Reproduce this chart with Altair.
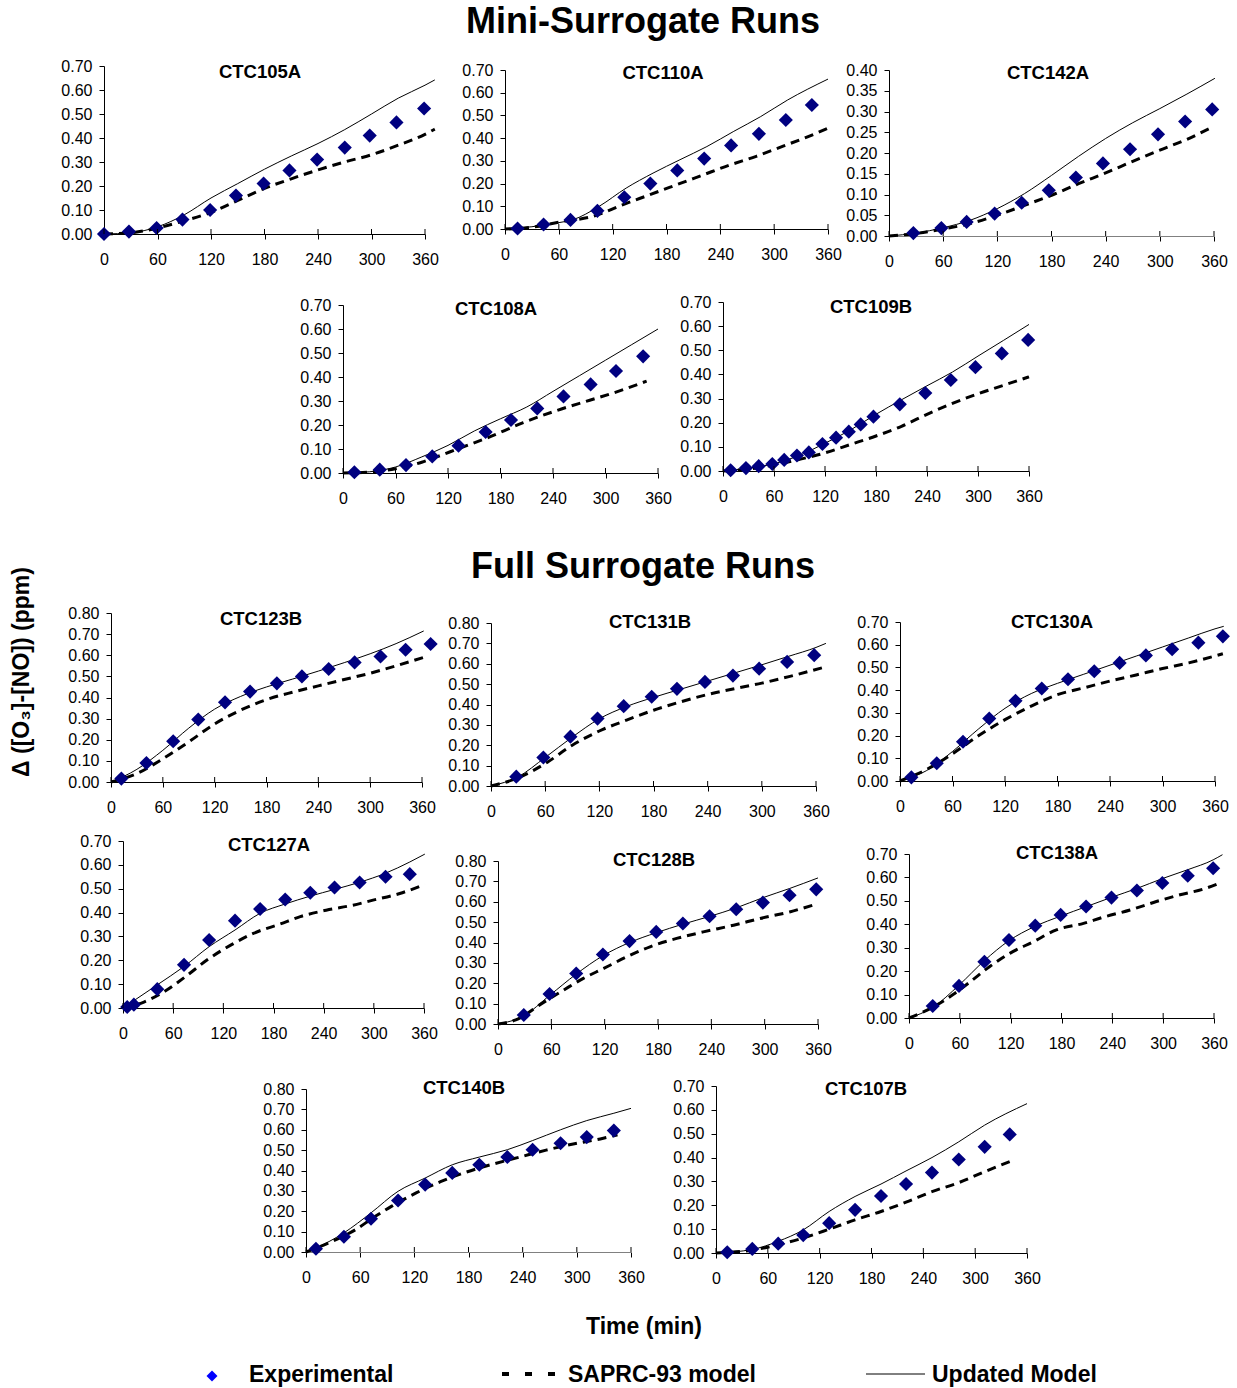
import altair as alt
import pandas as pd

FONT = "Liberation Sans, Arial, DejaVu Sans"
W, H = 1237, 1388
X_TICKS = [0, 60, 120, 180, 240, 300, 360]

# ---------------- data: (time [min], delta([O3]-[NO]) [ppm]) ----------------
CTC105A_EXP = [(0, 0.0), (28, 0.01), (59, 0.025), (88, 0.06), (119, 0.10), (148, 0.16), (179, 0.21), (208, 0.265), (239, 0.31), (270, 0.36), (298, 0.41), (328, 0.465), (359, 0.523)]
CTC105A_UPD = [(0, 0), (30, 0.005), (60, 0.03), (90, 0.08), (120, 0.15), (150, 0.21), (180, 0.27), (210, 0.325), (240, 0.377), (270, 0.435), (300, 0.50), (330, 0.566), (360, 0.62), (371, 0.642)]
CTC105A_SAP = [(0, 0), (30, 0.005), (60, 0.025), (90, 0.055), (120, 0.09), (150, 0.14), (180, 0.19), (210, 0.23), (240, 0.267), (270, 0.30), (300, 0.33), (330, 0.37), (360, 0.415), (371, 0.437)]

CTC110A_EXP = [(14, 0.002), (43, 0.02), (73, 0.04), (103, 0.08), (133, 0.14), (162, 0.20), (192, 0.258), (222, 0.31), (252, 0.368), (283, 0.419), (313, 0.48), (342, 0.546)]
CTC110A_UPD = [(0, 0), (30, 0.01), (60, 0.028), (75, 0.04), (105, 0.10), (135, 0.18), (165, 0.246), (195, 0.305), (225, 0.363), (255, 0.43), (285, 0.495), (315, 0.568), (360, 0.66)]
CTC110A_SAP = [(0, 0), (30, 0.008), (60, 0.03), (100, 0.058), (130, 0.105), (160, 0.149), (190, 0.193), (220, 0.237), (250, 0.281), (280, 0.32), (310, 0.365), (340, 0.41), (360, 0.444)]

CTC142A_EXP = [(27, 0.007), (58, 0.019), (86, 0.034), (117, 0.054), (147, 0.08), (177, 0.11), (207, 0.141), (237, 0.175), (267, 0.209), (298, 0.245), (328, 0.276), (358, 0.305)]
CTC142A_UPD = [(0, 0), (30, 0.007), (60, 0.02), (90, 0.038), (120, 0.066), (150, 0.102), (180, 0.146), (210, 0.192), (240, 0.235), (270, 0.273), (300, 0.307), (330, 0.342), (361, 0.38)]
CTC142A_SAP = [(0, 0), (30, 0.006), (60, 0.017), (90, 0.03), (120, 0.05), (150, 0.074), (180, 0.098), (210, 0.126), (240, 0.152), (270, 0.18), (300, 0.207), (330, 0.233), (356, 0.26)]

CTC108A_EXP = [(13, 0.003), (42, 0.014), (72, 0.033), (102, 0.069), (132, 0.114), (163, 0.171), (192, 0.221), (222, 0.269), (252, 0.319), (283, 0.369), (312, 0.425), (343, 0.486)]
CTC108A_UPD = [(0, 0), (30, 0.005), (60, 0.025), (90, 0.067), (120, 0.115), (150, 0.175), (180, 0.226), (210, 0.275), (240, 0.34), (270, 0.405), (300, 0.47), (330, 0.535), (360, 0.60)]
CTC108A_SAP = [(0, 0), (30, 0.004), (60, 0.018), (90, 0.045), (107, 0.067), (133, 0.103), (164, 0.145), (206, 0.21), (244, 0.26), (282, 0.303), (312, 0.337), (347, 0.383)]

CTC109B_EXP = [(9, 0.003), (27, 0.012), (42, 0.02), (58, 0.029), (72, 0.046), (87, 0.064), (101, 0.077), (117, 0.112), (133, 0.138), (148, 0.163), (162, 0.193), (177, 0.225), (208, 0.276), (238, 0.323), (268, 0.377), (297, 0.43), (328, 0.487), (359, 0.543)]
CTC109B_UPD = [(0, 0), (30, 0.012), (60, 0.03), (90, 0.065), (120, 0.115), (150, 0.17), (180, 0.235), (210, 0.295), (240, 0.353), (270, 0.41), (300, 0.476), (330, 0.541), (360, 0.607)]
CTC109B_SAP = [(0, 0), (30, 0.008), (60, 0.025), (90, 0.048), (120, 0.075), (150, 0.11), (180, 0.145), (210, 0.185), (240, 0.235), (270, 0.28), (300, 0.32), (330, 0.355), (360, 0.39)]

CTC123B_EXP = [(12, 0.016), (41, 0.09), (72, 0.193), (101, 0.296), (132, 0.377), (161, 0.428), (192, 0.467), (221, 0.50), (252, 0.535), (282, 0.566), (312, 0.594), (341, 0.626), (370, 0.653)]
CTC123B_UPD = [(0, 0), (30, 0.06), (60, 0.15), (90, 0.255), (120, 0.345), (150, 0.405), (180, 0.45), (210, 0.487), (240, 0.525), (270, 0.565), (300, 0.607), (330, 0.655), (362, 0.715)]
CTC123B_SAP = [(0, 0), (30, 0.04), (60, 0.11), (90, 0.19), (120, 0.275), (150, 0.34), (180, 0.39), (210, 0.425), (240, 0.455), (270, 0.485), (300, 0.515), (330, 0.55), (362, 0.59)]

CTC131B_EXP = [(28, 0.046), (58, 0.14), (88, 0.242), (118, 0.331), (147, 0.392), (178, 0.438), (206, 0.477), (237, 0.511), (268, 0.542), (297, 0.576), (328, 0.609), (358, 0.642)]
CTC131B_UPD = [(0, 0), (30, 0.045), (60, 0.14), (90, 0.24), (120, 0.33), (150, 0.39), (180, 0.435), (210, 0.475), (240, 0.515), (270, 0.555), (300, 0.595), (330, 0.637), (360, 0.68), (371, 0.70)]
CTC131B_SAP = [(0, 0), (30, 0.04), (60, 0.11), (90, 0.20), (120, 0.27), (150, 0.323), (180, 0.372), (210, 0.413), (240, 0.449), (270, 0.478), (300, 0.505), (330, 0.537), (371, 0.585)]

CTC130A_EXP = [(13, 0.016), (42, 0.078), (72, 0.173), (102, 0.275), (132, 0.353), (162, 0.407), (192, 0.448), (222, 0.483), (251, 0.52), (281, 0.553), (311, 0.58), (341, 0.609), (369, 0.637)]
CTC130A_UPD = [(0, 0), (30, 0.045), (60, 0.13), (90, 0.23), (120, 0.32), (150, 0.385), (180, 0.43), (210, 0.47), (240, 0.51), (270, 0.55), (300, 0.59), (330, 0.63), (360, 0.67), (370, 0.681)]
CTC130A_SAP = [(0, 0), (30, 0.05), (60, 0.12), (90, 0.20), (120, 0.27), (150, 0.33), (180, 0.38), (210, 0.41), (240, 0.44), (270, 0.467), (300, 0.495), (330, 0.52), (369, 0.56)]

CTC127A_EXP = [(5, 0.004), (13, 0.014), (41, 0.079), (73, 0.181), (103, 0.285), (134, 0.366), (164, 0.415), (194, 0.455), (224, 0.483), (253, 0.505), (283, 0.526), (314, 0.55), (343, 0.561)]
CTC127A_UPD = [(0, 0), (41, 0.097), (73, 0.174), (103, 0.257), (134, 0.327), (164, 0.397), (194, 0.436), (224, 0.469), (253, 0.497), (283, 0.527), (314, 0.565), (343, 0.612), (361, 0.645)]
CTC127A_SAP = [(0, 0), (25, 0.025), (50, 0.07), (76, 0.135), (100, 0.20), (132, 0.27), (156, 0.313), (188, 0.352), (212, 0.383), (243, 0.41), (275, 0.431), (299, 0.452), (331, 0.48), (361, 0.518)]

CTC128B_EXP = [(29, 0.044), (58, 0.147), (88, 0.248), (118, 0.341), (148, 0.407), (178, 0.452), (208, 0.493), (238, 0.529), (268, 0.563), (298, 0.596), (328, 0.632), (358, 0.661)]
CTC128B_UPD = [(0, 0), (29, 0.04), (58, 0.14), (88, 0.245), (118, 0.335), (148, 0.40), (178, 0.448), (208, 0.49), (238, 0.528), (268, 0.57), (298, 0.62), (328, 0.665), (360, 0.717)]
CTC128B_SAP = [(0, 0), (20, 0.02), (49, 0.10), (74, 0.167), (96, 0.224), (119, 0.273), (145, 0.33), (171, 0.379), (201, 0.42), (231, 0.452), (265, 0.485), (295, 0.518), (328, 0.55), (360, 0.591)]

CTC138A_EXP = [(28, 0.051), (59, 0.137), (89, 0.24), (118, 0.333), (149, 0.394), (179, 0.44), (209, 0.476), (239, 0.514), (269, 0.544), (299, 0.576), (329, 0.607), (359, 0.639)]
CTC138A_UPD = [(0, 0), (28, 0.045), (59, 0.14), (89, 0.245), (118, 0.33), (148, 0.39), (179, 0.435), (209, 0.475), (239, 0.515), (269, 0.553), (299, 0.595), (329, 0.633), (359, 0.675), (370, 0.697)]
CTC138A_SAP = [(0, 0), (25, 0.04), (52, 0.10), (72, 0.154), (95, 0.219), (119, 0.276), (147, 0.326), (174, 0.376), (206, 0.404), (229, 0.43), (261, 0.461), (292, 0.497), (320, 0.526), (347, 0.55), (369, 0.579)]

CTC140B_EXP = [(11, 0.016), (42, 0.075), (72, 0.163), (102, 0.253), (132, 0.331), (162, 0.388), (192, 0.428), (223, 0.466), (251, 0.502), (282, 0.534), (311, 0.564), (341, 0.596)]
CTC140B_UPD = [(0, 0), (11, 0.02), (42, 0.094), (72, 0.192), (102, 0.298), (132, 0.363), (162, 0.428), (192, 0.466), (223, 0.502), (251, 0.547), (282, 0.60), (311, 0.645), (341, 0.681), (360, 0.705)]
CTC140B_SAP = [(0, 0), (28, 0.05), (55, 0.11), (75, 0.17), (95, 0.225), (122, 0.29), (149, 0.345), (176, 0.39), (206, 0.43), (236, 0.465), (266, 0.50), (296, 0.53), (326, 0.555), (345, 0.575)]

CTC107B_EXP = [(13, 0.003), (42, 0.017), (72, 0.039), (101, 0.075), (131, 0.125), (161, 0.181), (191, 0.239), (220, 0.289), (250, 0.337), (281, 0.392), (311, 0.445), (340, 0.497)]
CTC107B_UPD = [(0, 0), (42, 0.015), (72, 0.049), (101, 0.097), (131, 0.174), (161, 0.237), (191, 0.289), (220, 0.344), (250, 0.40), (281, 0.466), (311, 0.536), (360, 0.626)]
CTC107B_SAP = [(0, 0), (45, 0.014), (72, 0.035), (101, 0.063), (131, 0.10), (161, 0.139), (191, 0.174), (220, 0.213), (250, 0.257), (281, 0.295), (311, 0.341), (340, 0.383)]

PANEL_NAMES = ["CTC105A", "CTC110A", "CTC142A", "CTC108A", "CTC109B",
               "CTC123B", "CTC131B", "CTC130A", "CTC127A", "CTC128B",
               "CTC138A", "CTC140B", "CTC107B"]
PANEL_YMAX = [0.70, 0.70, 0.40, 0.70, 0.70, 0.80, 0.80, 0.70, 0.70, 0.80, 0.70, 0.80, 0.70]
PANEL_YSTEP = [0.10, 0.10, 0.05, 0.10, 0.10, 0.10, 0.10, 0.10, 0.10, 0.10, 0.10, 0.10, 0.10]
SECTION_TITLES = ["Mini-Surrogate Runs", "Full Surrogate Runs"]
Y_TITLE = "\u0394 ([O\u2083]-[NO]) (ppm)"
X_TITLE = "Time (min)"
LEGEND_LABELS = ["Experimental", "SAPRC-93 model", "Updated Model"]

SERIES = {
    "CTC105A": (CTC105A_EXP, CTC105A_UPD, CTC105A_SAP),
    "CTC110A": (CTC110A_EXP, CTC110A_UPD, CTC110A_SAP),
    "CTC142A": (CTC142A_EXP, CTC142A_UPD, CTC142A_SAP),
    "CTC108A": (CTC108A_EXP, CTC108A_UPD, CTC108A_SAP),
    "CTC109B": (CTC109B_EXP, CTC109B_UPD, CTC109B_SAP),
    "CTC123B": (CTC123B_EXP, CTC123B_UPD, CTC123B_SAP),
    "CTC131B": (CTC131B_EXP, CTC131B_UPD, CTC131B_SAP),
    "CTC130A": (CTC130A_EXP, CTC130A_UPD, CTC130A_SAP),
    "CTC127A": (CTC127A_EXP, CTC127A_UPD, CTC127A_SAP),
    "CTC128B": (CTC128B_EXP, CTC128B_UPD, CTC128B_SAP),
    "CTC138A": (CTC138A_EXP, CTC138A_UPD, CTC138A_SAP),
    "CTC140B": (CTC140B_EXP, CTC140B_UPD, CTC140B_SAP),
    "CTC107B": (CTC107B_EXP, CTC107B_UPD, CTC107B_SAP),
}

# ---------------- layout (pixels): plot x0, x1, y-bottom, y-top, title centre, gray x-axis ----------------
LAYOUT = {
    "CTC105A": (104, 425, 234, 66, 260, 72, False),
    "CTC110A": (505, 828, 229, 70, 663, 73, False),
    "CTC142A": (889, 1214, 236, 70, 1048, 73, True),
    "CTC108A": (343, 658, 473, 305, 496, 309, False),
    "CTC109B": (723, 1029, 471, 302, 871, 307, False),
    "CTC123B": (111, 422, 782, 613, 261, 619, False),
    "CTC131B": (491, 816, 786, 623, 650, 622, False),
    "CTC130A": (900, 1215, 781, 622, 1052, 622, False),
    "CTC127A": (123, 424, 1008, 841, 269, 845, False),
    "CTC128B": (498, 818, 1024, 861, 654, 860, False),
    "CTC138A": (909, 1214, 1018, 854, 1057, 853, False),
    "CTC140B": (306, 631, 1252, 1089, 464, 1088, True),
    "CTC107B": (716, 1027, 1253, 1086, 866, 1089, False),
}

TICK_FS = 16
PANEL_TITLE_FS = 18.5


def df(pairs):
    return pd.DataFrame(pairs, columns=["t", "v"])


def make_panel(name, ymax, ystep):
    exp, upd, sap = SERIES[name]
    x0, x1, yb, yt, tx, ty, gray = LAYOUT[name]
    n = int(round(ymax / ystep))
    yvals = [round(i * ystep, 2) for i in range(n + 1)]
    xs = alt.Scale(domain=[0, 360], range=[x0, x1], nice=False, zero=False)
    ys = alt.Scale(domain=[0, ymax], range=[yb, yt], nice=False, zero=False)
    xaxis = alt.Axis(orient="bottom", offset=yb - H, values=X_TICKS, format="d",
                     title=None, grid=False, tickSize=5, tickColor="black", tickWidth=1,
                     domainColor="#808080" if gray else "black", domainWidth=1,
                     labelFont=FONT, labelFontSize=TICK_FS, labelColor="black",
                     labelPadding=12, labelFlush=False, labelOverlap=False)
    yaxis = alt.Axis(orient="left", offset=-x0, values=yvals, format=".2f",
                     title=None, grid=False, tickSize=5, tickColor="black", tickWidth=1,
                     domainColor="black", domainWidth=1,
                     labelFont=FONT, labelFontSize=TICK_FS, labelColor="black",
                     labelPadding=7, labelFlush=False, labelOverlap=False)
    upd_line = alt.Chart(df(upd)).mark_line(color="black", strokeWidth=1, interpolate="monotone").encode(
        x=alt.X("t:Q", scale=xs, axis=xaxis, title=None),
        y=alt.Y("v:Q", scale=ys, axis=yaxis, title=None),
    )
    sap_line = alt.Chart(df(sap)).mark_line(color="black", strokeWidth=3, strokeDash=[9, 6],
                                           interpolate="monotone").encode(
        x=alt.X("t:Q", title=None), y=alt.Y("v:Q", title=None))
    pts = alt.Chart(df(exp)).mark_point(shape="diamond", filled=True, size=200, color="#000080",
                                        opacity=1).encode(
        x=alt.X("t:Q", title=None), y=alt.Y("v:Q", title=None))
    inner_ticks = alt.Chart(pd.DataFrame({"t": X_TICKS})).mark_rule(color="black", strokeWidth=1).encode(
        x=alt.X("t:Q", title=None), y=alt.value(yb - 5), y2=alt.value(yb))
    title = alt.Chart(pd.DataFrame({"label": [name]})).mark_text(
        font=FONT, fontSize=PANEL_TITLE_FS, fontWeight="bold", color="black",
        align="center", baseline="middle").encode(
        text="label:N", x=alt.value(tx), y=alt.value(ty))
    return alt.layer(upd_line, sap_line, pts, inner_ticks, title)


panels = [make_panel(n, ym, st) for n, ym, st in zip(PANEL_NAMES, PANEL_YMAX, PANEL_YSTEP)]


def text_layer(label, x, y, size, align="center", angle=0):
    kw = dict(font=FONT, fontSize=size, fontWeight="bold", color="black", align=align, baseline="middle")
    if angle:
        kw["angle"] = angle
    return alt.Chart(pd.DataFrame({"label": [label]})).mark_text(**kw).encode(
        text="label:N", x=alt.value(x), y=alt.value(y))


decor = [
    text_layer(SECTION_TITLES[0], 643, 22, 36),
    text_layer(SECTION_TITLES[1], 643, 567, 36),
    text_layer(Y_TITLE, 22, 672, 23, angle=270),
    text_layer(X_TITLE, 644, 1327, 23),
    text_layer(LEGEND_LABELS[0], 249, 1375, 23, align="left"),
    text_layer(LEGEND_LABELS[1], 568, 1375, 23, align="left"),
    text_layer(LEGEND_LABELS[2], 932, 1375, 23, align="left"),
]

one = pd.DataFrame({"k": [0]})
legend_marks = [
    alt.Chart(one).mark_point(shape="diamond", filled=True, size=120, color="#0000FF", opacity=1).encode(
        x=alt.value(212), y=alt.value(1376)),
    alt.Chart(one).mark_rule(color="black", strokeWidth=4, strokeDash=[7, 16]).encode(
        x=alt.value(502), x2=alt.value(557), y=alt.value(1374)),
    alt.Chart(one).mark_rule(color="black", strokeWidth=1).encode(
        x=alt.value(866), x2=alt.value(925), y=alt.value(1374)),
]

chart = alt.layer(*panels, *decor, *legend_marks).resolve_scale(
    x="independent", y="independent"
).resolve_axis(
    x="independent", y="independent"
).properties(
    width=W, height=H, autosize=alt.AutoSizeParams(type="none"), padding=0, background="white"
).configure_view(stroke=None)

chart.save("out.html", embed_options={"renderer": "svg", "actions": False})
